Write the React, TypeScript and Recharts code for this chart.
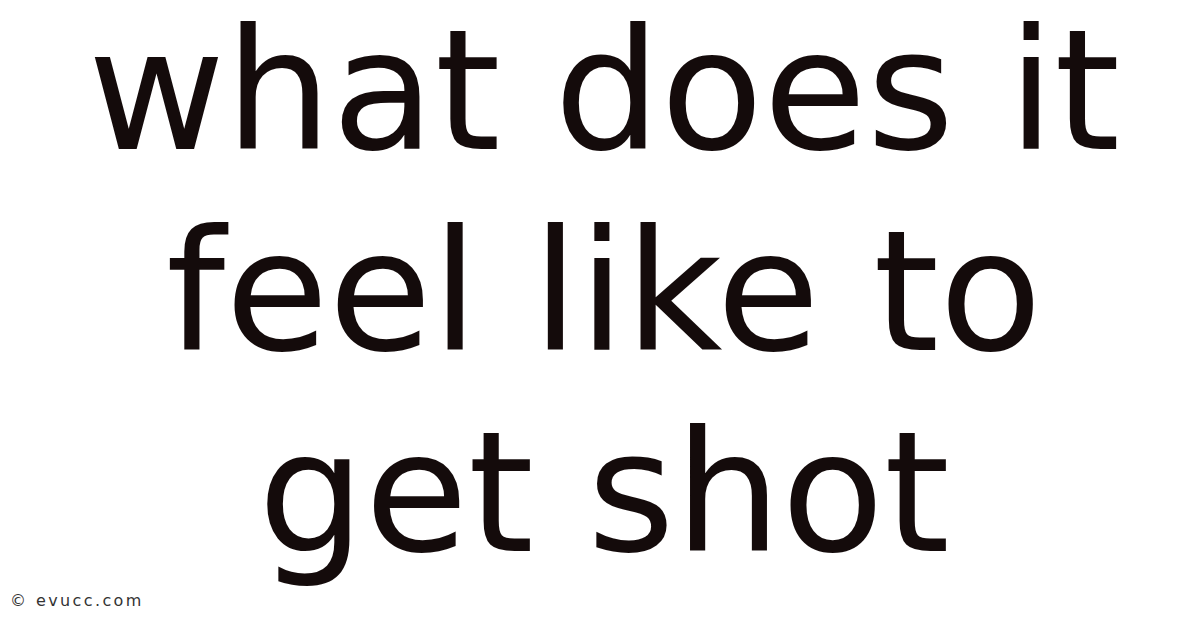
import React from "react";
import { ScatterChart, Scatter, XAxis, YAxis, Customized } from "recharts";

const lines: string[] = ["what does it", "feel like to", "get shot"];
const linePositions: number[] = [0, 1, 2];
const watermark = "© evucc.com";

const data = lines.map((label, i) => ({ x: 0.5, y: linePositions[i], label }));

const TEXT_COLOR = "#140b0b";

const TitleLine = (props: any) => {
  const { cx, cy, payload } = props;
  return (
    <text
      x={cx}
      y={cy}
      textAnchor="middle"
      fontFamily="'DejaVu Sans', sans-serif"
      fontSize={168}
      fill={TEXT_COLOR}
    >
      {payload.label}
    </text>
  );
};

const Watermark = () => (
  <text
    x={10}
    y={606}
    fontFamily="'DejaVu Sans', sans-serif"
    fontSize={16}
    letterSpacing={2.4}
    fill="#333333"
  >
    {watermark}
  </text>
);

export default function App() {
  return (
    <div style={{ position: "fixed", left: 0, top: 0, width: 1200, height: 628, background: "#ffffff" }}>
      <ScatterChart
        width={1200}
        height={628}
        margin={{ top: 149, bottom: 77, left: 8, right: 0 }}
      >
        <XAxis type="number" dataKey="x" domain={[0, 1]} hide />
        <YAxis type="number" dataKey="y" domain={[0, 2]} reversed hide />
        <Scatter data={data} isAnimationActive={false} shape={TitleLine} />
        <Customized component={Watermark} />
      </ScatterChart>
    </div>
  );
}
